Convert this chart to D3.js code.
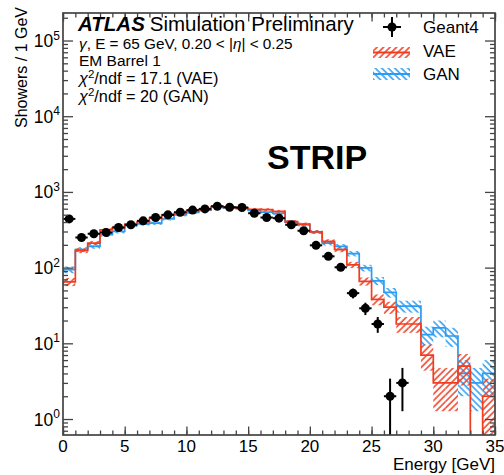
<!DOCTYPE html>
<html>
<head>
<meta charset="utf-8">
<script src="https://d3js.org/d3.v7.min.js"></script>
<style>
html,body{margin:0;padding:0;background:#fff;}
svg{display:block;}
text{font-family:"Liberation Sans",Arial,Helvetica,sans-serif;fill:#000;}
</style>
</head>
<body>
<svg id="chart" width="504" height="475"></svg>
<script>
// ---- data ----
const binLow = [0,1,2,3,4,5,6,7,8,9,10,11,12,13,14,15,16,17,18,19,20,21,22,23,24,25,26,27,28,29,30,31,32,33,34];
const binWidth = 1;
const geant4 = [440,250,280,291,339,368,415,459,498,539,575,597,647,627,622,523,459,450,368,307,197,141,101,46,29,18,2,3,0,0,0,0,0,0,0];
const vae    = [65,168,211,316,339,375,406,450,498,523,562,585,640,625,610,590,585,555,405,375,296,222,173,109,66,38,30,18,18,7,3,3,5,0,2];
const gan    = [94,173,191,272,300,360,379,386,441,498,537,575,630,620,605,570,540,520,400,370,296,211,191,153,99,67,47,31,31,13,16,12.5,4,3,4];
const xTickLabels = [0,5,10,15,20,25,30,35];
const yDecades = [1,10,100,1000,10000,100000];
const titleLines = ["EM Barrel 1"];
const legendLabels = ["Geant4","VAE","GAN"];
const chiVAE = "17.1", chiGAN = "20";

// ---- layout ----
const L = 63, R = 495, T = 13, B = 435;
const xDomain = [0,35], yDomain = [0.615, 2.31e5];
const RED = "#f23c20", BLUE = "#2a9cf2";

const svg = d3.select("#chart");
const x = d3.scaleLinear().domain(xDomain).range([L,R]);
const y = d3.scaleLog().domain(yDomain).range([B,T]);
const yc = v => v <= yDomain[0] ? B : Math.max(T, y(v));

const defs = svg.append("defs");
defs.append("clipPath").attr("id","plotclip").append("rect")
  .attr("x",L).attr("y",T).attr("width",R-L).attr("height",B-T);
function hatch(id,color,angle){
  const p = defs.append("pattern").attr("id",id).attr("patternUnits","userSpaceOnUse")
    .attr("width",4.6).attr("height",4.6).attr("patternTransform",`rotate(${angle})`);
  p.append("line").attr("x1",1).attr("y1",0).attr("x2",1).attr("y2",4.6)
    .attr("stroke",color).attr("stroke-width",1.5);
}
hatch("hRed",RED,45);
hatch("hBlue",BLUE,-45);

const plot = svg.append("g").attr("clip-path","url(#plotclip)");

function drawHist(vals,color,pat){
  const bands = binLow.map((lo,i)=>({lo,v:vals[i]})).filter(d=>d.v>0);
  plot.append("g").selectAll("rect").data(bands).join("rect")
    .attr("x",d=>x(d.lo)).attr("width",d=>x(d.lo+binWidth)-x(d.lo))
    .attr("y",d=>yc(d.v+Math.sqrt(d.v)))
    .attr("height",d=>yc(d.v-Math.sqrt(d.v))-yc(d.v+Math.sqrt(d.v)))
    .attr("fill",`url(#${pat})`);
  const pts = [];
  binLow.forEach((lo,i)=>{ pts.push([lo,vals[i]]); pts.push([lo+binWidth,vals[i]]); });
  plot.append("path").datum(pts)
    .attr("d",d3.line().x(d=>x(d[0])).y(d=>d[1]>0?yc(d[1]):B+2))
    .attr("fill","none").attr("stroke",color).attr("stroke-width",1.7);
}
drawHist(gan,BLUE,"hBlue");
drawHist(vae,RED,"hRed");

// data points
const dpts = binLow.map((lo,i)=>({c:lo+binWidth/2,lo,v:geant4[i]})).filter(d=>d.v>0);
const dg = plot.append("g");
dg.selectAll(".ev").data(dpts).join("line").attr("class","ev")
  .attr("x1",d=>x(d.c)).attr("x2",d=>x(d.c))
  .attr("y1",d=>yc(d.v+Math.sqrt(d.v))).attr("y2",d=>d.v-Math.sqrt(d.v)>0?yc(d.v-Math.sqrt(d.v)):B+2)
  .attr("stroke","#000").attr("stroke-width",2);
dg.selectAll(".eh").data(dpts).join("line").attr("class","eh")
  .attr("x1",d=>x(d.lo)).attr("x2",d=>x(d.lo+binWidth))
  .attr("y1",d=>y(d.v)).attr("y2",d=>y(d.v))
  .attr("stroke","#000").attr("stroke-width",2);
dg.selectAll("circle").data(dpts).join("circle")
  .attr("cx",d=>x(d.c)).attr("cy",d=>y(d.v)).attr("r",4.5).attr("fill","#000");

// ---- axes / ticks ----
const axCol = "#444";
const xMinor = binLow.concat([35]);
function styleAx(g){ g.select(".domain").remove(); g.selectAll("line").attr("stroke",axCol).attr("stroke-width",1.3); g.selectAll("text").remove(); }
svg.append("g").attr("transform",`translate(0,${B})`).call(d3.axisBottom(x).tickValues(xMinor).tickSize(-4.5).tickFormat("")).call(styleAx);
svg.append("g").attr("transform",`translate(0,${B})`).call(d3.axisBottom(x).tickValues(xTickLabels).tickSize(-8.5).tickFormat("")).call(styleAx);
svg.append("g").attr("transform",`translate(0,${T})`).call(d3.axisTop(x).tickValues(xMinor).tickSize(-4.5).tickFormat("")).call(styleAx);
svg.append("g").attr("transform",`translate(0,${T})`).call(d3.axisTop(x).tickValues(xTickLabels).tickSize(-8.5).tickFormat("")).call(styleAx);

const yMinor = [];
[0.1,1,10,100,1000,10000,100000].forEach(dec=>{ [2,3,4,5,6,7,8,9].forEach(m=>{ const v=m*dec; if(v>=yDomain[0]&&v<=yDomain[1]) yMinor.push(v); }); });
svg.append("g").attr("transform",`translate(${L},0)`).call(d3.axisLeft(y).tickValues(yMinor).tickSize(-5).tickFormat("")).call(styleAx);
svg.append("g").attr("transform",`translate(${L},0)`).call(d3.axisLeft(y).tickValues(yDecades).tickSize(-10).tickFormat("")).call(styleAx);
svg.append("g").attr("transform",`translate(${R},0)`).call(d3.axisRight(y).tickValues(yMinor).tickSize(-5).tickFormat("")).call(styleAx);
svg.append("g").attr("transform",`translate(${R},0)`).call(d3.axisRight(y).tickValues(yDecades).tickSize(-10).tickFormat("")).call(styleAx);

// frame
svg.append("rect").attr("x",L).attr("y",T).attr("width",R-L).attr("height",B-T)
  .attr("fill","none").attr("stroke",axCol).attr("stroke-width",1.7);

// tick labels
svg.append("g").selectAll("text").data(xTickLabels).join("text")
  .attr("x",d=>x(d)).attr("y",451.5).attr("text-anchor","middle")
  .attr("font-size","17px").text(d=>d);
const yl = svg.append("g").selectAll("text").data(yDecades).join("text")
  .attr("x",60).attr("y",d=>y(d)+6.5).attr("text-anchor","end").attr("font-size","17.5px");
yl.append("tspan").text("10");
yl.append("tspan").attr("font-size","12px").attr("dy",-7.5).text(d=>Math.round(Math.log10(d)));

// axis titles
svg.append("text").attr("x",R).attr("y",470).attr("text-anchor","end")
  .attr("font-size","17px").text("Energy [GeV]");
svg.append("text").attr("transform","translate(27,7) rotate(-90)").attr("text-anchor","end")
  .attr("font-size","16px").text("Showers / 1 GeV");

// title block
const t1 = svg.append("text").attr("x",78).attr("y",31).attr("font-size","20.5px");
t1.append("tspan").attr("font-weight","bold").attr("font-style","italic").text("ATLAS");
t1.append("tspan").attr("dx",5).text("Simulation Preliminary");

const t2 = svg.append("text").attr("x",79).attr("y",48.5).attr("font-size","15.3px");
t2.append("tspan").attr("font-style","italic").text("γ");
t2.append("tspan").text(", E = 65 GeV, 0.20 < |");
t2.append("tspan").attr("font-style","italic").text("η");
t2.append("tspan").text("| < 0.25");

svg.append("text").attr("x",79).attr("y",65.5).attr("font-size","15.5px").text(titleLines[0]);

function chiLine(yy,val,name){
  const t = svg.append("text").attr("x",79).attr("y",yy).attr("font-size","16.3px");
  t.append("tspan").attr("font-style","italic").text("χ");
  t.append("tspan").attr("font-size","11.5px").attr("dy",-6.5).text("2");
  t.append("tspan").attr("dy",6.5).text(`/ndf = ${val} (${name})`);
}
chiLine(84,chiVAE,"VAE");
chiLine(102,chiGAN,"GAN");

// STRIP
svg.append("text").attr("x",267).attr("y",169).attr("font-size","34px").attr("font-weight","bold").text("STRIP");

// legend
const lg = svg.append("g");
lg.append("line").attr("x1",392).attr("x2",392).attr("y1",17).attr("y2",37).attr("stroke","#000").attr("stroke-width",2);
lg.append("line").attr("x1",383).attr("x2",401).attr("y1",27).attr("y2",27).attr("stroke","#000").attr("stroke-width",2);
lg.append("circle").attr("cx",392).attr("cy",27).attr("r",4.5).attr("fill","#000");
lg.append("rect").attr("x",373).attr("y",47).attr("width",37).attr("height",11).attr("fill","url(#hRed)");
lg.append("line").attr("x1",373).attr("x2",410).attr("y1",52.5).attr("y2",52.5).attr("stroke",RED).attr("stroke-width",1.8);
lg.append("rect").attr("x",373).attr("y",68).attr("width",37).attr("height",12).attr("fill","url(#hBlue)");
lg.append("line").attr("x1",373).attr("x2",410).attr("y1",74).attr("y2",74).attr("stroke",BLUE).attr("stroke-width",1.8);
lg.selectAll(".lt").data(legendLabels).join("text").attr("class","lt")
  .attr("x",423).attr("y",(d,i)=>[33,57,80][i]).attr("font-size","17px").text(d=>d);
</script>
</body>
</html>
